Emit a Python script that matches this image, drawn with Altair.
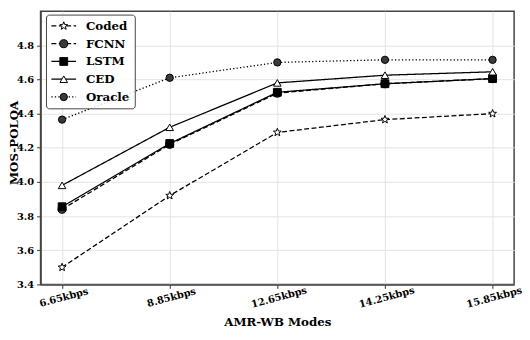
import math
import json
import altair as alt
import pandas as pd

# ---------------- data ----------------
modes = ["6.65kbps", "8.85kbps", "12.65kbps", "14.25kbps", "15.85kbps"]
series = ["Coded", "FCNN", "LSTM", "CED", "Oracle"]
coded = [3.50, 3.92, 4.29, 4.365, 4.40]
fcnn = [3.84, 4.22, 4.52, 4.575, 4.605]
lstm = [3.855, 4.225, 4.525, 4.575, 4.605]
ced = [3.98, 4.32, 4.58, 4.625, 4.645]
oracle = [4.365, 4.61, 4.70, 4.715, 4.715]
y_ticks = [3.4, 3.6, 3.8, 4.0, 4.2, 4.4, 4.6, 4.8]

values = {"Coded": coded, "FCNN": fcnn, "LSTM": lstm, "CED": ced, "Oracle": oracle}
rows = []
for s in series:
    for i, m in enumerate(modes):
        rows.append({"series": s, "idx": i, "mode": m, "value": values[s][i]})
df = pd.DataFrame(rows)
df_leg = pd.DataFrame({"series": series, "row": list(range(len(series)))})

# ---------------- styles ----------------
def star_path(n=5, r_in=0.42):
    pts = []
    for k in range(2 * n):
        r = 1.0 if k % 2 == 0 else r_in
        a = -math.pi / 2 + k * math.pi / n
        pts.append(f"{r*math.cos(a):.3f},{r*math.sin(a):.3f}")
    return "M" + "L".join(pts) + "Z"

shapes = [star_path(), "circle", "square", "triangle-up", "circle"]
fills = ["white", "#3a3a3a", "black", "white", "#3a3a3a"]
sizes = [70, 55, 50, 55, 55]
dashes = [[5, 2.5], [5, 2.5], [1, 0], [1, 0], [1.3, 2.2]]

FONT = "DejaVu Serif"
W, H = 480, 277
label_expr = json.dumps(modes) + "[datum.value]"

dash_scale = alt.Scale(domain=series, range=dashes)
shape_scale = alt.Scale(domain=series, range=shapes)
fill_scale = alt.Scale(domain=series, range=fills)
size_scale = alt.Scale(domain=series, range=sizes)

x_axis = alt.Axis(
    values=list(range(len(modes))),
    labelExpr=label_expr,
    title="AMR-WB Modes",
    labelAngle=345,
    labelAlign="center",
    labelBaseline="top",
    labelPadding=4,
    labelOverlap=False,
    labelFlush=False,
    titleY=38,
    titleBaseline="middle",
)
y_axis = alt.Axis(
    values=y_ticks,
    format=".1f",
    title="MOS-POLQA",
    labelPadding=3,
    labelOverlap=False,
    labelFlush=False,
    titleX=-27,
    titleY=133,
    titleBaseline="middle",
)
x_scale = alt.Scale(domain=[-0.2, 4.2], nice=False, zero=False)
y_scale = alt.Scale(domain=[3.4, 5.0], nice=False, zero=False)


def xe():
    return alt.X("idx:Q", scale=x_scale, axis=x_axis)


def ye():
    return alt.Y("value:Q", scale=y_scale, axis=y_axis)


lines = alt.Chart(df).mark_line(color="black", strokeWidth=1.3).encode(
    x=xe(),
    y=ye(),
    strokeDash=alt.StrokeDash("series:N", scale=dash_scale, legend=None),
    detail="series:N",
)
points = alt.Chart(df).mark_point(
    filled=True, stroke="black", strokeWidth=1, opacity=1
).encode(
    x=xe(),
    y=ye(),
    shape=alt.Shape("series:N", scale=shape_scale, legend=None),
    fill=alt.Fill("series:N", scale=fill_scale, legend=None),
    size=alt.Size("series:N", scale=size_scale, legend=None),
)
main = alt.layer(lines, points)

# ---------------- legend ----------------
leg_y = alt.Y("row:Q", scale=alt.Scale(domain=[0, 4], range=[15, 87]), axis=None)
box = alt.Chart(pd.DataFrame({"a": [0]})).mark_rect(
    fill="white", fillOpacity=0.85, stroke="#444444", strokeWidth=1, cornerRadius=3
).encode(x=alt.value(6), x2=alt.value(96), y=alt.value(4), y2=alt.value(99))
leg_lines = alt.Chart(df_leg).mark_rule(color="black", strokeWidth=1.3).encode(
    x=alt.value(11),
    x2=alt.value(36),
    y=leg_y,
    strokeDash=alt.StrokeDash("series:N", scale=dash_scale, legend=None),
)
leg_pts = alt.Chart(df_leg).mark_point(
    filled=True, stroke="black", strokeWidth=1, opacity=1
).encode(
    x=alt.value(23.5),
    y=leg_y,
    shape=alt.Shape("series:N", scale=shape_scale, legend=None),
    fill=alt.Fill("series:N", scale=fill_scale, legend=None),
    size=alt.Size("series:N", scale=size_scale, legend=None),
)
leg_text = alt.Chart(df_leg).mark_text(
    align="left", baseline="middle", font=FONT, fontWeight="bold", fontSize=12, color="black"
).encode(x=alt.value(46), y=leg_y, text="series:N")
legend = alt.layer(box, leg_lines, leg_pts, leg_text)

chart = (
    alt.layer(main, legend)
    .resolve_scale(y="independent")
    .properties(
        width=W,
        height=H,
        autosize=alt.AutoSizeParams(type="none"),
        padding={"left": 33, "top": 1, "right": 8, "bottom": 44},
    )
    .configure_view(stroke="#444444", strokeWidth=1.5)
    .configure_axis(
        labelFont=FONT,
        labelFontWeight="bold",
        labelFontSize=10,
        labelColor="black",
        titleFont=FONT,
        titleFontWeight="bold",
        titleFontSize=12,
        titleColor="black",
        gridColor="#e3e3e3",
        gridWidth=1,
        domainColor="#444444",
        domainWidth=1.5,
        tickColor="#333333",
        tickSize=4,
    )
)

chart.save("out.html", embed_options={"renderer": "svg", "actions": False})
